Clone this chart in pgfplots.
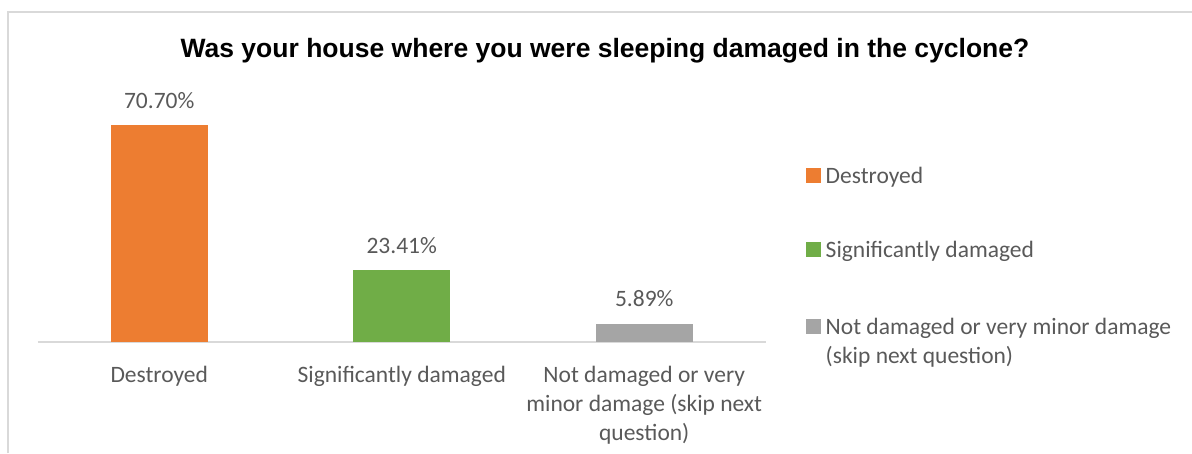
\documentclass[border=0pt]{standalone}
\usepackage{pgfplots}
\pgfplotsset{compat=1.18}
\usepackage{fontspec}
\setmainfont{Carlito}
\newfontfamily\titlefont{Liberation Sans}
\definecolor{cOrange}{HTML}{ED7D31}
\definecolor{cGreen}{HTML}{70AD47}
\definecolor{cGrey}{HTML}{A5A5A5}
\definecolor{cText}{HTML}{595959}
\definecolor{cAxis}{HTML}{D9D9D9}
\newcommand{\lfont}{\fontsize{23.5}{29}\selectfont}
\pgfplotsset{mylegend/.style={legend image code/.code={\fill[##1] (0pt,0pt) rectangle (15pt,15pt);}}}
\begin{document}
\begin{tikzpicture}[x=1pt,y=1pt]
\useasboundingbox (0,0) rectangle (1192,453);
\draw[color=cAxis, line width=1.3pt] (8,0) -- (8,441) -- (1192,441);
\begin{axis}[
 at={(38pt,111pt)}, anchor=south west,
 scale only axis, width=727.5pt, height=245.5pt,
 xmin=-0.5, xmax=2.5, ymin=0, ymax=80,
 axis x line=bottom, axis y line=none,
 axis line style={-, draw=cAxis, line width=1.5pt},
 xtick={0,1,2},
 xticklabels={Destroyed,Significantly damaged,{Not damaged or very\\minor damage (skip next\\question)}},
 major tick length=0pt, xtick style={draw=none},
 ytick=\empty,
 xticklabel style={anchor=north, inner sep=0pt, yshift=-24pt, align=center, font=\lfont, text=cText},
 ybar, bar width=97pt, bar shift=0pt,
 point meta=y,
 nodes near coords={\pgfmathprintnumber[fixed,fixed zerofill,precision=2]{\pgfplotspointmeta}\%},
 every node near coord/.append style={anchor=base, yshift=17pt, inner sep=0pt, font=\lfont, text=cText},
 /pgf/number format/assume math mode=true,
 legend cell align=left,
 legend style={at={(1.0557,0.721)}, anchor=north west, draw=none, fill=none, inner sep=0pt,
   row sep=51pt, column sep=3pt, font=\lfont, text=cText,
   nodes={inner sep=1.5pt, text depth=4pt}, cells={anchor=base west}},
 clip=false,
]
\addplot[fill=cOrange, draw=none, mylegend] coordinates {(0,70.70)};
\addlegendentry{Destroyed}
\addplot[fill=cGreen, draw=none, mylegend] coordinates {(1,23.41)};
\addlegendentry{Significantly damaged}
\addplot[fill=cGrey, draw=none, mylegend] coordinates {(2,5.89)};
\addlegendentry{\parbox[t]{370pt}{\raggedright\rule{0pt}{19pt}Not damaged or very minor damage\\(skip next question)}}
\end{axis}
\node[anchor=base, inner sep=0pt, font=\titlefont\bfseries\fontsize{26.5}{30}\selectfont] at (605,395) {Was your house where you were sleeping damaged in the cyclone?};
\end{tikzpicture}
\end{document}
